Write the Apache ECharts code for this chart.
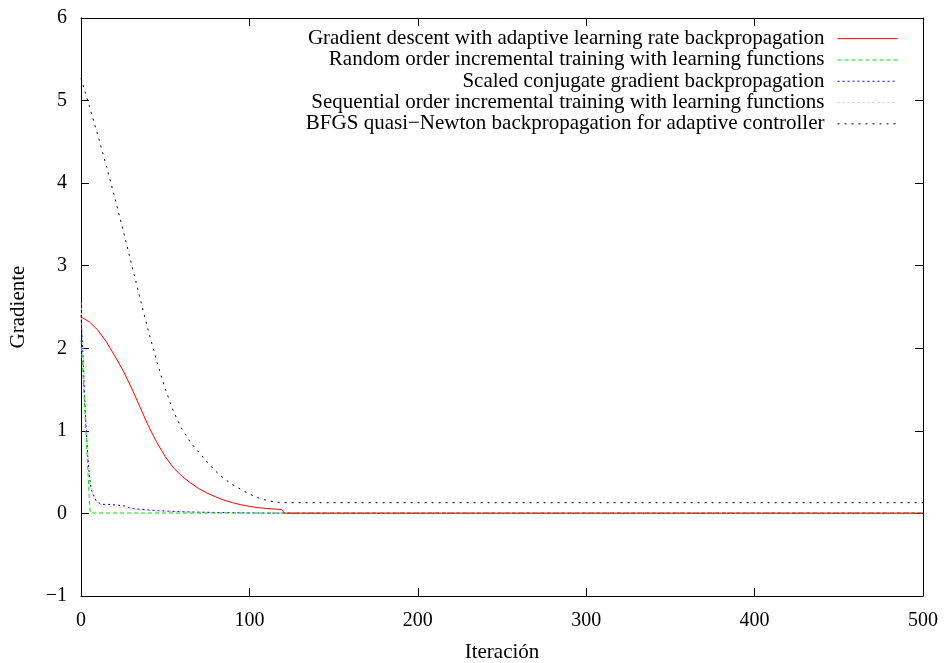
<!DOCTYPE html>
<html>
<head>
<meta charset="utf-8">
<script src="https://cdn.jsdelivr.net/npm/echarts@6/dist/echarts.min.js"></script>
<style>
  html, body { margin: 0; padding: 0; background: #ffffff; }
  #chart { width: 946px; height: 663px; }
</style>
</head>
<body>
<div id="chart"></div>
<script>
// Gradient per iteration for five training algorithms
const seriesNames = [
  'Gradient descent with adaptive learning rate backpropagation',
  'Random order incremental training with learning functions',
  'Scaled conjugate gradient backpropagation',
  'Sequential order incremental training with learning functions',
  'BFGS quasi\u2212Newton backpropagation for adaptive controller'
];

const gdxIter = [0, 5, 10, 15, 20, 25, 30, 35, 40, 45, 50, 55, 60, 65, 70, 75, 80, 85, 90, 95, 100, 105, 110, 115, 119, 121, 500];
const gdxGrad = [2.38, 2.32, 2.22, 2.08, 1.91, 1.73, 1.52, 1.29, 1.06, 0.86, 0.69, 0.55, 0.45, 0.37, 0.30, 0.245, 0.20, 0.16, 0.13, 0.105, 0.085, 0.07, 0.06, 0.053, 0.048, 0.003, 0.003];

const randIter = [0, 1, 2, 3, 4, 5, 5.5, 500];
const randGrad = [2.1, 1.75, 1.35, 0.95, 0.55, 0.15, 0.005, 0.005];

const scgIter = [0, 1, 2, 3, 4, 5, 6, 7, 9, 12, 16, 22, 26, 30, 38, 46, 60, 76, 100, 130, 500];
const scgGrad = [2.4, 2.0, 1.5, 1.05, 0.7, 0.45, 0.3, 0.24, 0.15, 0.11, 0.11, 0.10, 0.09, 0.06, 0.045, 0.033, 0.02, 0.013, 0.006, 0.002, 0.002];

const seqIter = [0, 1, 2, 3, 4, 5, 6, 8, 10, 15, 20, 30, 45, 70, 100, 500];
const seqGrad = [2.55, 2.1, 1.6, 1.15, 0.8, 0.5, 0.3, 0.17, 0.12, 0.09, 0.08, 0.05, 0.03, 0.015, 0.005, 0.005];

const bfgIter = [0, 5, 10, 15, 20, 25, 30, 35, 40, 45, 50, 55, 60, 65, 70, 75, 80, 85, 90, 95, 100, 105, 110, 115, 120, 500];
const bfgGrad = [5.27, 4.93, 4.58, 4.21, 3.83, 3.43, 3.02, 2.61, 2.21, 1.84, 1.51, 1.23, 1.02, 0.86, 0.74, 0.62, 0.51, 0.42, 0.35, 0.29, 0.235, 0.19, 0.16, 0.14, 0.13, 0.13];

const xTicks = [0, 100, 200, 300, 400, 500];
const yTicks = [-1, 0, 1, 2, 3, 4, 5, 6];

const lineColors = ['#ff0000', '#00e000', '#0000ff', '#f7b8c4', '#000000'];
const lineDashes = ['solid', [4, 3], [2, 3], [2, 3], [2, 5]];

function pairs(xs, ys) {
  return xs.map((x, i) => [x, ys[i]]);
}

const seriesData = [
  pairs(gdxIter, gdxGrad),
  pairs(randIter, randGrad),
  pairs(scgIter, scgGrad),
  pairs(seqIter, seqGrad),
  pairs(bfgIter, bfgGrad)
];

const serif = 'Liberation Serif, Times New Roman, serif';
const fontPx = 20;

const chart = echarts.init(document.getElementById('chart'), null, { renderer: 'canvas' });

const frameLine = { show: true, onZero: false, lineStyle: { color: '#000', width: 1 } };
const innerTick = { show: true, inside: true, length: 8, lineStyle: { color: '#000', width: 1 } };

chart.setOption({
  animation: false,
  backgroundColor: '#ffffff',
  grid: { left: 81, right: 23, top: 18, bottom: 67, containLabel: false, outerBoundsMode: 'none' },
  legend: {
    orient: 'vertical',
    align: 'right',
    right: 43,
    top: 23,
    itemWidth: 60,
    itemHeight: 10,
    itemGap: 0,
    data: seriesNames,
    itemStyle: { opacity: 0 },
    lineStyle: { width: 1 },
    textStyle: {
      fontFamily: serif,
      fontSize: 21,
      color: '#000',
      lineHeight: 21.3,
      padding: [0, 8, 0, 0]
    }
  },
  xAxis: [
    {
      type: 'value',
      min: 0, max: 500, interval: 100,
      name: 'Iteración',
      nameLocation: 'middle',
      nameGap: 46,
      nameTextStyle: { fontFamily: serif, fontSize: 21, color: '#000' },
      axisLine: frameLine,
      axisTick: innerTick,
      axisLabel: {
        fontFamily: serif, fontSize: fontPx, color: '#000', margin: 15,
        formatter: v => (xTicks.indexOf(v) >= 0 ? String(v) : '')
      },
      splitLine: { show: false }
    },
    {
      type: 'value',
      position: 'top',
      min: 0, max: 500, interval: 100,
      axisLine: frameLine,
      axisTick: innerTick,
      axisLabel: { show: false },
      splitLine: { show: false }
    }
  ],
  yAxis: [
    {
      type: 'value',
      min: -1, max: 6, interval: 1,
      name: 'Gradiente',
      nameLocation: 'middle',
      nameGap: 52,
      nameRotate: 90,
      nameTextStyle: { fontFamily: serif, fontSize: 21, color: '#000' },
      axisLine: frameLine,
      axisTick: innerTick,
      axisLabel: {
        fontFamily: serif, fontSize: fontPx, color: '#000', margin: 14,
        formatter: v => (yTicks.indexOf(v) >= 0 ? (v < 0 ? '\u2212' + Math.abs(v) : String(v)) : '')
      },
      splitLine: { show: false }
    },
    {
      type: 'value',
      position: 'right',
      min: -1, max: 6, interval: 1,
      axisLine: frameLine,
      axisTick: innerTick,
      axisLabel: { show: false },
      splitLine: { show: false }
    }
  ],
  series: seriesNames.map((name, i) => ({
    name: name,
    type: 'line',
    xAxisIndex: 0,
    yAxisIndex: 0,
    data: seriesData[i],
    showSymbol: false,
    symbol: 'none',
    smooth: false,
    color: lineColors[i],
    itemStyle: { opacity: 0 },
    lineStyle: { color: lineColors[i], width: 1, type: lineDashes[i] },
    emphasis: { disabled: true },
    z: 10 - i
  }))
});
</script>
</body>
</html>
